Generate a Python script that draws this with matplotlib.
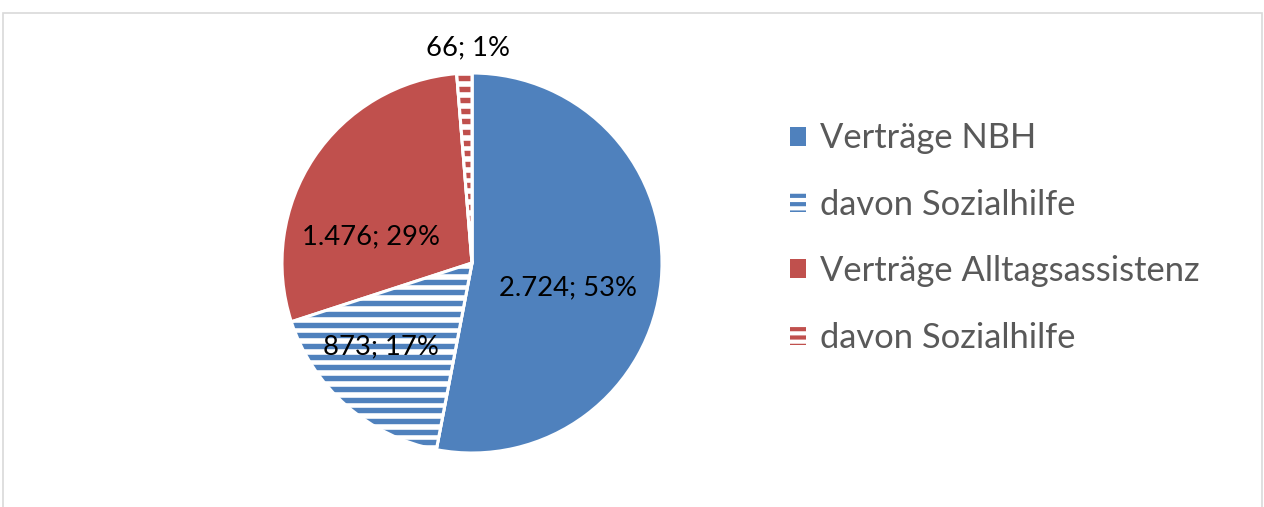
import numpy as np
import matplotlib
matplotlib.use("Agg")
from matplotlib import pyplot as plt
from matplotlib.patches import Patch, Rectangle, Wedge

plt.rcParams['font.family'] = ['Lato', 'DejaVu Sans']
plt.rcParams['hatch.linewidth'] = 3.0

labels = ['Verträge NBH', 'davon Sozialhilfe', 'Verträge Alltagsassistenz', 'davon Sozialhilfe']
values = [2724, 873, 1476, 66]
colors = ['#4F81BD', '#4F81BD', '#C0504D', '#C0504D']
striped = [False, True, False, True]
# label offsets in units of the radius (as Excel placed them)
label_pos = [(0.505, -0.13), (-0.48, -0.44), (-0.53, 0.14), (-0.02, 1.13)]

W, H = 1264, 507
fig = plt.figure(figsize=(W / 100, H / 100), dpi=100)
ax = fig.add_axes([0, 0, 1, 1])

cx, cy, r = 472, H - 263, 190
wedges, _ = ax.pie(values, startangle=90, counterclock=False, center=(cx, cy), radius=r,
                   colors=['white' if s else c for s, c in zip(striped, colors)],
                   wedgeprops=dict(edgecolor='white', linewidth=2.2), frame=True)
ax.set_xlim(0, W)
ax.set_ylim(0, H)
ax.axis('off')

# chart frame
ax.add_patch(Rectangle((3, -20), 1259, H - 13 + 20, fill=False, edgecolor='#D9D9D9', linewidth=1.2))

# horizontal stripes for the "davon" slices
period = 10.7
for w, s, c in zip(wedges, striped, colors):
    if not s:
        continue
    for y in np.arange(cy - r, cy + r, period):
        ln, = ax.plot([cx - r, cx + r], [y, y], color=c, linewidth=3.9, solid_capstyle='butt',
                      zorder=w.get_zorder() + 0.1)
        ln.set_clip_path(w)
    # white border on top of the stripes
    ax.add_patch(Wedge(w.center, w.r, w.theta1, w.theta2, fill=False, edgecolor='white',
                       linewidth=2.2, zorder=w.get_zorder() + 0.2))

total = sum(values)
for v, (dx, dy) in zip(values, label_pos):
    txt = '{}; {:.0f}%'.format('{:,}'.format(v).replace(',', '.'), 100 * v / total)
    ax.text(cx + dx * r, cy + dy * r, txt, ha='center', va='center', fontsize=19.7, color='black', zorder=5)

handles = []
for c, s in zip(colors, striped):
    if s:
        handles.append(Patch(facecolor='white', edgecolor=c, hatch='--', linewidth=0))
    else:
        handles.append(Patch(facecolor=c, edgecolor=c, linewidth=0))
leg = ax.legend(handles, labels, loc='center left', bbox_to_anchor=(773, H - 238), bbox_transform=ax.transData,
                frameon=False, fontsize=24.8, handlelength=0.47, handleheight=0.47, handletextpad=0.38,
                labelspacing=1.0, borderpad=0, labelcolor='#595959')

fig.savefig('out.png', dpi=100)
